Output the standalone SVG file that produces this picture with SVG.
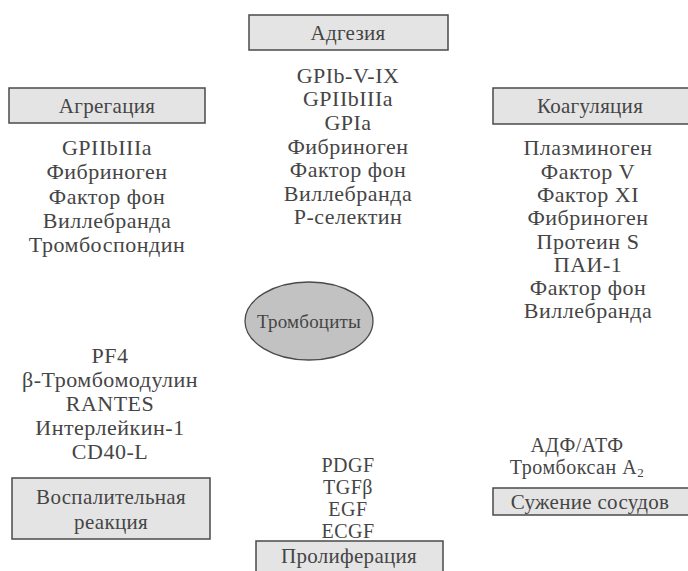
<svg xmlns="http://www.w3.org/2000/svg" width="688" height="571" viewBox="0 0 688 571">
  <style>
    .box { fill: #e4e4e4; stroke: #4a4a4a; stroke-width: 1.5; }
    .cell { fill: #c2c2c2; stroke: #4a4a4a; stroke-width: 1.3; }
    .t { font-family: "Liberation Serif", serif; font-size: 22px; letter-spacing: 0.5px; fill: #454545; text-anchor: middle; dominant-baseline: central; }
    .h { font-size: 21px; letter-spacing: 0.3px; }
    .c { font-size: 19px; letter-spacing: 0.2px; }
    .s { font-size: 20px; letter-spacing: 0.5px; }
  </style>
  <rect width="688" height="571" fill="#fff"/>

  <!-- central cell -->
  <g id="platelets">
    <ellipse class="cell" cx="309" cy="321" rx="64" ry="39"/>
    <text class="t c" x="309" y="321">Тромбоциты</text>
  </g>

  <g id="adhesion">
    <rect class="box" x="249" y="15" width="199" height="35"/>
    <text class="t h" x="348" y="33">Адгезия</text>
    <text class="t" x="348" y="75">GPIb-V-IX</text>
    <text class="t" x="348" y="98">GPIIbIIIa</text>
    <text class="t" x="348" y="122">GPIa</text>
    <text class="t" x="348" y="146">Фибриноген</text>
    <text class="t" x="348" y="169">Фактор фон</text>
    <text class="t" x="348" y="193">Виллебранда</text>
    <text class="t" x="348" y="216">Р-селектин</text>
  </g>

  <g id="aggregation">
    <rect class="box" x="9" y="88" width="196" height="35"/>
    <text class="t h" x="107" y="106">Агрегация</text>
    <text class="t" x="107" y="147">GPIIbIIIa</text>
    <text class="t" x="107" y="171">Фибриноген</text>
    <text class="t" x="107" y="196">Фактор фон</text>
    <text class="t" x="107" y="220">Виллебранда</text>
    <text class="t" x="107" y="244">Тромбоспондин</text>
  </g>

  <g id="coagulation">
    <rect class="box" x="493" y="88" width="197" height="36"/>
    <text class="t h" x="590" y="106">Коагуляция</text>
    <text class="t" x="588" y="147">Плазминоген</text>
    <text class="t" x="588" y="171">Фактор V</text>
    <text class="t" x="588" y="194">Фактор XI</text>
    <text class="t" x="588" y="217">Фибриноген</text>
    <text class="t" x="588" y="241">Протеин S</text>
    <text class="t" x="588" y="264">ПАИ-1</text>
    <text class="t" x="588" y="287">Фактор фон</text>
    <text class="t" x="588" y="310">Виллебранда</text>
  </g>

  <g id="inflammation">
    <text class="t" x="110" y="355">PF4</text>
    <text class="t" x="110" y="379">β-Тромбомодулин</text>
    <text class="t" x="110" y="403">RANTES</text>
    <text class="t" x="110" y="427">Интерлейкин-1</text>
    <text class="t" x="110" y="451">CD40-L</text>
    <rect class="box" x="12" y="478" width="198" height="61"/>
    <text class="t h" x="111" y="497">Воспалительная</text>
    <text class="t h" x="111" y="522">реакция</text>
  </g>

  <g id="proliferation">
    <text class="t s" x="348" y="465">PDGF</text>
    <text class="t s" x="348" y="487">TGFβ</text>
    <text class="t s" x="348" y="509">EGF</text>
    <text class="t s" x="348" y="531">ECGF</text>
    <rect class="box" x="256" y="541" width="187" height="34"/>
    <text class="t h" x="349" y="556">Пролиферация</text>
  </g>

  <g id="vasoconstriction">
    <text class="t s" x="577" y="445">АДФ/АТФ</text>
    <text class="t s" x="577" y="467">Тромбоксан А<tspan font-size="13" dy="5">2</tspan></text>
    <rect class="box" x="493" y="488" width="197" height="27"/>
    <text class="t h" x="590" y="502">Сужение сосудов</text>
  </g>
</svg>
